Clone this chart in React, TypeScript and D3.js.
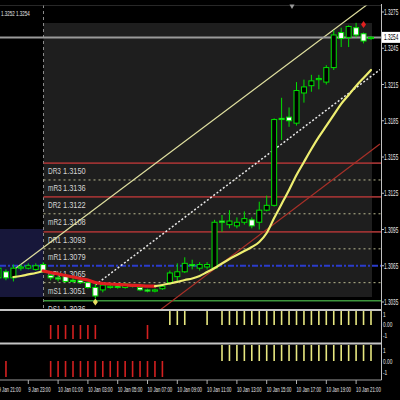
import React from 'react';
import * as d3 from 'd3';

// ---------- DATA (30-minute bars from 9 Jan 21:00, index 0..50) ----------
const opens = [1.3055,1.3060,1.3055,1.3063,1.3063,1.3062,1.3066,1.3057,1.3055,1.3056,
  1.3053,1.3053,1.3051,1.3047,1.3045,1.3047,1.3048,1.3047,1.3048,1.3047,
  1.3045,1.3044,1.3046,1.3051,1.3056,1.3060,1.3066,1.3063,1.3064,1.3063,
  1.3102,1.3099,1.3098,1.3101,1.3103,1.3101,1.3111,1.3115,1.3187,1.3188,
  1.3183,1.3208,1.3214,1.3219,1.3217,1.3229,1.3258,1.3254,1.3262,1.3257,1.3253];
const highs = [1.3065,1.3062,1.3066,1.3066,1.3067,1.3067,1.3068,1.3058,1.3057,1.3057,
  1.3055,1.3055,1.3052,1.3051,1.3051,1.3050,1.3050,1.3051,1.3050,1.3048,
  1.3046,1.3046,1.3049,1.3061,1.3067,1.3072,1.3070,1.3068,1.3068,1.3103,
  1.3107,1.3111,1.3105,1.3110,1.3105,1.3118,1.3123,1.3187,1.3204,1.3196,
  1.3217,1.3219,1.3223,1.3223,1.3231,1.3260,1.3262,1.3264,1.3266,1.3258,1.3255];
const lows = [1.3053,1.3053,1.3052,1.3061,1.3062,1.3061,1.3059,1.3053,1.3052,1.3051,
  1.3051,1.3050,1.3046,1.3038,1.3043,1.3046,1.3046,1.3046,1.3047,1.3044,
  1.3043,1.3043,1.3045,1.3049,1.3051,1.3059,1.3062,1.3061,1.3062,1.3062,
  1.3093,1.3096,1.3096,1.3099,1.3096,1.3095,1.3110,1.3114,1.3169,1.3180,
  1.3181,1.3200,1.3209,1.3211,1.3215,1.3227,1.3246,1.3246,1.3254,1.3249,1.3252];
const closes = [1.3063,1.3055,1.3063,1.3064,1.3065,1.3065,1.3060,1.3055,1.3054,1.3052,
  1.3052,1.3051,1.3047,1.3040,1.3049,1.3048,1.3047,1.3050,1.3049,1.3045,
  1.3044,1.3045,1.3048,1.3059,1.3060,1.3067,1.3065,1.3066,1.3066,1.3101,
  1.3101,1.3102,1.3101,1.3104,1.3098,1.3111,1.3115,1.3186,1.3186,1.3185,
  1.3210,1.3213,1.3218,1.3220,1.3229,1.3256,1.3253,1.3263,1.3256,1.3251,1.3254];

const maValues: (number | null)[] = [null,null,1.30557,1.30565,1.30578,1.30590,1.30607,1.30594,1.30582,1.30569,
  1.30557,1.30544,1.30532,1.30511,1.30503,1.30499,1.30495,1.30491,1.30488,1.30486,
  1.30482,1.30481,1.30491,1.30503,1.30516,1.30532,1.30544,1.30565,1.30598,1.30631,
  1.30669,1.30706,1.30739,1.30772,1.30805,1.30847,1.30921,1.31045,1.31161,1.31277,
  1.31401,1.31509,1.31616,1.31716,1.31807,1.31898,1.31989,1.32063,1.32138,1.32204,1.32270];

const channelUpper: [number, number][] = [[2, 1.30615], [50, 1.32835]];
const channelMid: [number, number][] = [[13, 1.30491], [51.2, 1.32273]];
const channelLow: [number, number][] = [[21.7, 1.30284], [51.2, 1.31658]];

const pivotNames = ['DR3', 'mR3', 'DR2', 'mR2', 'DR1', 'mR1', 'DPV', 'mS1', 'DS1'];
const pivotValues = [1.3150, 1.3136, 1.3122, 1.3108, 1.3093, 1.3079, 1.3065, 1.3051, 1.3036];

const priceTicks = [1.3275, 1.3245, 1.3215, 1.3185, 1.3155, 1.3125, 1.3095, 1.3065, 1.3035];
const bidPrice = 1.3254;
const headerText = '1.3252 1.3254';

const timeTickIdx = [0, 4, 8, 12, 16, 20, 24, 28, 32, 36, 40, 44, 48];
const timeTickLabels = ['9 Jan 21:00', '9 Jan 23:00', '10 Jan 01:00', '10 Jan 03:00', '10 Jan 05:00',
  '10 Jan 07:00', '10 Jan 09:00', '10 Jan 11:00', '10 Jan 13:00', '10 Jan 15:00',
  '10 Jan 17:00', '10 Jan 19:00', '10 Jan 21:00'];

const pane1Values = [0,0,0,0,0,0,0,-1,-1,-1,-1,-1,-1,-1,0,0,0,0,0,0,-1,0,0,1,1,1,0,0,1,0,
  1,1,1,1,1,1,1,1,1,1,1,1,1,1,1,1,1,1,1,1,1];
const pane2Values = [0,-1,0,0,0,0,0,-1,-1,-1,-1,-1,-1,-1,-1,-1,-1,-1,-1,-1,-1,-1,-1,0,0,0,0,0,0,0,
  1,1,1,1,1,1,1,1,1,1,1,1,1,1,1,1,1,1,1,1,1];
const paneTickValues = [1, 0, -1];
const paneTickLabels = ['1', '0.00', '-1'];

const markerIdx = [13, 49];
const markerPrice = [1.3035, 1.32647];
const markerColor = ['#e8e060', '#e02020'];

// ---------- COMPONENT ----------
const FONT = 'Liberation Sans, Arial, sans-serif';

type CTProps = { x: number; y: number; sx: number; size: number; fill: string; children: React.ReactNode };
function CText({ x, y, sx, size, fill, children }: CTProps) {
  return (
    <text transform={`translate(${x},${y}) scale(${sx},1)`} x={0} y={0} fontSize={size} fill={fill}>
      {children}
    </text>
  );
}

export default function App() {
  const x = d3.scaleLinear().domain([0, 50]).range([-1.5, 371]);
  const y = d3.scaleLinear().domain([1.3035, 1.3275]).range([302, 12]);
  const p1 = d3.scaleLinear().domain([-1, 1]).range([339, 311]);
  const p2 = d3.scaleLinear().domain([-1, 1]).range([377, 345]);
  const p1Lab = d3.scaleLinear().domain([-1, 1]).range([337.5, 317]);
  const p2Lab = d3.scaleLinear().domain([-1, 1]).range([374.5, 353]);

  const axisX = 381.5;
  const bodyW = 5;

  const line = d3.line<[number, number]>().x(d => x(d[0])).y(d => y(d[1]));

  const maPts: [number, number][] = [];
  maValues.forEach((v, i) => { if (v != null) maPts.push([i, v]); });
  const runs: { up: boolean; pts: [number, number][] }[] = [];
  for (let k = 1; k < maPts.length; k++) {
    const up = maPts[k][1] >= maPts[k - 1][1];
    const last = runs[runs.length - 1];
    if (last && last.up === up) last.pts.push(maPts[k]);
    else runs.push({ up, pts: [maPts[k - 1], maPts[k]] });
  }
  const maLine = d3.line<[number, number]>().x(d => x(d[0])).y(d => y(d[1])).curve(d3.curveMonotoneX);

  const pivotStyle = (name: string) => {
    if (name === 'DPV') return { stroke: '#2b3ccc', width: 2, dash: '6,2,2,2', x0: 0 };
    if (name === 'DS1') return { stroke: '#3c963c', width: 1.5, dash: undefined, x0: 43.5 };
    if (name.startsWith('D')) return { stroke: '#9a3232', width: 1.8, dash: undefined, x0: 43.5 };
    return { stroke: '#b8b890', width: 1, dash: '2,3', x0: 43.5 };
  };

  return (
    <svg width={400} height={400} style={{ position: 'absolute', left: 0, top: 0, display: 'block', background: '#000' }}
      fontFamily={FONT}>
      <defs>
        <clipPath id="mainClip"><rect x={0} y={5.5} width={axisX} height={303.5} /></clipPath>
      </defs>
      <rect x={0} y={0} width={400} height={400} fill="#000" />

      <g clipPath="url(#mainClip)">
        <rect x={43.5} y={23} width={372 - 43.5} height={297 - 23} fill="#1e1e1e" />
        <rect x={0} y={229} width={43.5} height={297 - 229} fill="#17173a" />
        <line x1={43.5} x2={43.5} y1={5} y2={309} stroke="#8a8a8a" strokeDasharray="3,3" />

        {pivotNames.map((n, k) => {
          const s = pivotStyle(n);
          const yy = y(pivotValues[k]);
          return <line key={n} x1={s.x0} x2={axisX} y1={yy} y2={yy} stroke={s.stroke}
            strokeWidth={s.width} strokeDasharray={s.dash} />;
        })}
        {pivotNames.map((n, k) => {
          const yy = y(pivotValues[k]) + 11;
          return (
            <g key={'l' + n}>
              <CText x={48} y={yy} sx={0.66} size={9.8} fill="#d4d4d4">{n}</CText>
              <CText x={63} y={yy} sx={0.76} size={9.8} fill="#d4d4d4">{pivotValues[k].toFixed(4)}</CText>
            </g>
          );
        })}

        <path d={line(channelUpper) || ''} stroke="#e0e0a0" strokeWidth={1.2} fill="none" />
        <path d={line(channelMid) || ''} stroke="#e8e8e8" strokeWidth={1.5} strokeDasharray="2,2" fill="none" />
        <path d={line(channelLow) || ''} stroke="#a83028" strokeWidth={1.2} fill="none" />

        <line x1={0} x2={axisX} y1={4.5} y2={4.5} stroke="#a0a0a0" strokeWidth={2} />
        <line x1={0} x2={axisX} y1={y(bidPrice)} y2={y(bidPrice)} stroke="#9a9a9a" strokeWidth={2} />

        {opens.map((o, i) => {
          const c = closes[i];
          const cx = x(i);
          const top = y(Math.max(o, c));
          const bot = y(Math.min(o, c));
          const bull = c >= o;
          return (
            <g key={'c' + i}>
              <line x1={cx} x2={cx} y1={y(highs[i])} y2={y(lows[i])} stroke="#00e000" strokeWidth={1} />
              <rect x={cx - bodyW / 2} y={top} width={bodyW} height={Math.max(bot - top, 0.8)}
                fill={bull ? '#000' : '#ffffff'} stroke="#00e000" strokeWidth={1} />
            </g>
          );
        })}

        {runs.map((r, k) => (
          <path key={'ma' + k} d={maLine(r.pts) || ''} fill="none"
            stroke={r.up ? '#eeee70' : '#e02020'} strokeWidth={r.up ? 2.2 : 3.2} strokeLinecap="round" />
        ))}

        {markerIdx.map((mi, k) => {
          const mx = x(mi), my = y(markerPrice[k]);
          return <path key={'m' + k} d={`M${mx},${my - 3.5}L${mx + 2.5},${my}L${mx},${my + 3.5}L${mx - 2.5},${my}Z`}
            fill={markerColor[k]} />;
        })}
      </g>

      <CText x={1} y={16} sx={0.6} size={7.5} fill="#e8e8e8">{headerText}</CText>
      <path d="M289.5,4.5L294.5,4.5L292,9Z" fill="#9a9a9a" />

      <line x1={0} x2={axisX} y1={310} y2={310} stroke="#c4c4c4" strokeWidth={2} />
      <line x1={0} x2={axisX} y1={343.5} y2={343.5} stroke="#c4c4c4" strokeWidth={2} />
      <line x1={0} x2={axisX} y1={380} y2={380} stroke="#9a9a9a" strokeWidth={1} />
      <line x1={axisX} x2={axisX} y1={4} y2={380} stroke="#c0c0c0" strokeWidth={1} />

      {priceTicks.map(v => (
        <g key={'pt' + v}>
          <line x1={axisX} x2={axisX + 2.5} y1={y(v)} y2={y(v)} stroke="#c0c0c0" />
          <CText x={384} y={y(v) + 3} sx={0.55} size={8.5} fill="#e8e8e8">{v.toFixed(4)}</CText>
        </g>
      ))}
      <rect x={382} y={y(bidPrice) - 5.5} width={18} height={11} fill="#ffffff" />
      <CText x={384} y={y(bidPrice) + 3} sx={0.55} size={8.5} fill="#000">{bidPrice.toFixed(4)}</CText>

      {pane1Values.map((v, i) => v === 0 ? null : (
        <line key={'a' + i} x1={x(i)} x2={x(i)} y1={p1(0)} y2={p1(v)}
          stroke={v > 0 ? '#e8e880' : '#d42020'} strokeWidth={1.6} />
      ))}
      {pane2Values.map((v, i) => v === 0 ? null : (
        <line key={'b' + i} x1={x(i)} x2={x(i)} y1={p2(0)} y2={p2(v)}
          stroke={v > 0 ? '#e8e880' : '#d42020'} strokeWidth={1.6} />
      ))}
      {paneTickValues.map((v, k) => (
        <g key={'pl' + k}>
          <CText x={383} y={p1Lab(v)} sx={0.6} size={8} fill="#e8e8e8">{paneTickLabels[k]}</CText>
          <CText x={383} y={p2Lab(v)} sx={0.6} size={8} fill="#e8e8e8">{paneTickLabels[k]}</CText>
        </g>
      ))}

      {timeTickIdx.map((ti, k) => {
        const tx = x(ti);
        return (
          <g key={'t' + k}>
            <line x1={tx} x2={tx} y1={380} y2={384} stroke="#b0b0b0" />
            <CText x={tx} y={392} sx={0.57} size={7.5} fill="#e8e8e8">{timeTickLabels[k]}</CText>
          </g>
        );
      })}
    </svg>
  );
}
